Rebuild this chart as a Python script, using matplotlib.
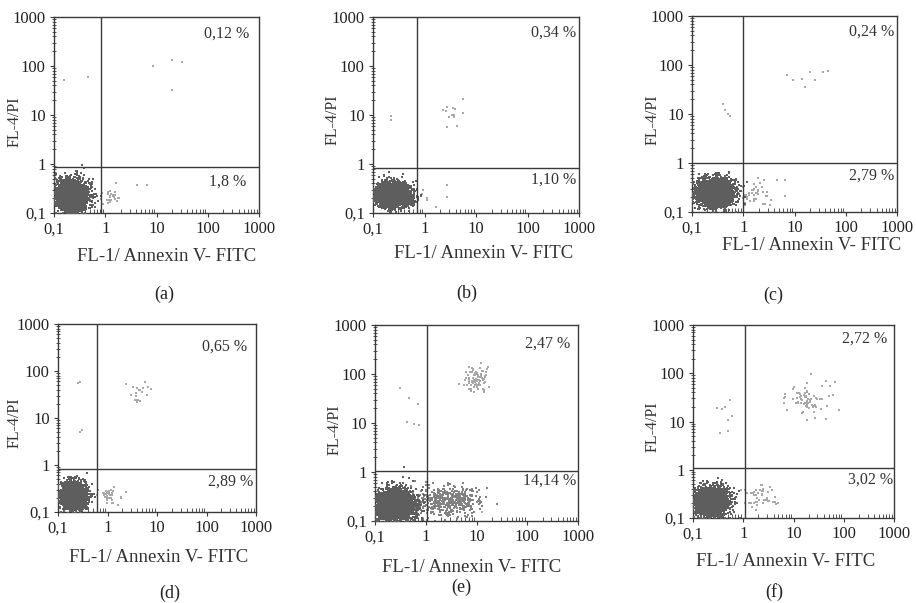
import numpy as np
import matplotlib
matplotlib.use("Agg")
import matplotlib.pyplot as plt
from matplotlib.ticker import LogLocator, NullFormatter

plt.rcParams["font.family"] = ["Liberation Serif", "DejaVu Serif"]

W, H = 916, 603

PANEL_TAGS = ["(a)", "(b)", "(c)", "(d)", "(e)", "(f)"]
TICK_VALUES = [0.1, 1, 10, 100, 1000]
TICK_LABELS = ["0,1", "1", "10", "100", "1000"]
X_TITLE = "FL-1/ Annexin V- FITC"
Y_TITLE = "FL-4/PI"

# quadrant gates
GATE_X = [0.83, 0.73, 1.0, 0.61, 1.05, 1.1]
GATE_Y = [0.88, 0.84, 1.0, 0.82, 1.05, 1.08]
PCT_UPPER = ["0,12 %", "0,34 %", "0,24 %", "0,65 %", "2,47 %", "2,72 %"]
PCT_LOWER = ["1,8 %", "1,10 %", "2,79 %", "2,89 %", "14,14 %", "3,02 %"]

# live population (lower-left): centre, spread in decades, events
LIVE_X = [0.22, 0.24, 0.28, 0.21, 0.24, 0.23]
LIVE_Y = [0.22, 0.24, 0.25, 0.22, 0.21, 0.22]
LIVE_SX = [0.16, 0.17, 0.18, 0.12, 0.20, 0.17]
LIVE_SY = [0.17, 0.12, 0.14, 0.14, 0.16, 0.15]
LIVE_N = [2300, 2300, 2800, 2600, 2800, 2300]

# smaller populations: (x, y, spread x, spread y, events)
MINOR_POPS = [
    [(1.3, 0.22, 0.10, 0.09, 25)],
    [(3.6, 10, 0.12, 0.15, 6)],
    [(1.6, 0.25, 0.15, 0.14, 40)],
    [(1.1, 0.22, 0.10, 0.10, 35), (4.5, 38, 0.12, 0.15, 12)],
    [(2.5, 0.25, 0.35, 0.15, 500), (10, 80, 0.12, 0.15, 90)],
    [(2.2, 0.28, 0.15, 0.15, 45), (20, 28, 0.25, 0.20, 75)],
]
DARK_MINOR = [False, False, False, False, True, False]

# single scattered events
SPARSE_X = [
    [0.16, 0.47, 8.7, 20, 31, 20, 4.1, 6.4, 1.6],
    [0.22, 0.22, 5.7, 3.6, 2.7, 4.2, 2.3, 5.7, 3.4, 2.7, 2.7, 1.1, 1.1, 1.7, 0.9, 0.95],
    [0.4, 0.45, 0.5, 0.55, 7, 9.2, 14, 16, 20, 25, 36, 46, 4.5, 6.6, 6.6, 3.3],
    [0.28, 0.28, 0.25, 0.3, 3.3, 5.7, 6.2, 6.6, 3.0, 4.5, 4, 2.4],
    [0.31, 0.46, 0.71, 0.42, 0.58, 0.74, 12.7],
    [0.3, 0.44, 0.55, 0.6, 0.34, 0.5, 0.5, 0.38],
]
SPARSE_Y = [
    [51, 59, 100, 132, 123, 32, 0.38, 0.38, 0.4],
    [9.5, 8, 21, 13.7, 5.8, 6, 12.6, 10.8, 10, 0.37, 0.21, 0.2, 0.18, 0.13, 0.25, 0.3],
    [16, 12, 10, 9, 62, 49, 52, 35, 72, 50, 72, 76, 0.46, 0.46, 0.21, 0.14],
    [59, 5.1, 55, 5.5, 46, 59, 31, 45, 31, 40, 24, 0.27],
    [51, 32, 25, 10.6, 9.5, 9, 0.15],
    [19, 20, 28, 13, 5.8, 6.3, 11, 18],
]

# layout in pixels: axes box (left, top, right, bottom)
AXES_BOX = [
    (54, 17, 259, 213),
    (373, 17, 579, 213),
    (692, 16, 897, 212),
    (58, 324, 256, 512),
    (375, 325, 578, 521),
    (693, 325, 894, 518),
]
XLABEL_POS = [(167, 256), (484, 253), (812, 245), (159, 557), (472, 567), (786, 562)]
YLABEL_POS = [(15, 122), (333, 120), (653, 120), (15, 423), (335, 430), (653, 427)]
TAG_POS = [(164, 294), (467, 293), (773, 295), (170, 593), (461, 587), (774, 592)]
UPPER_POS = [(0.953, 0.917), (0.985, 0.92), (0.985, 0.92), (0.957, 0.88), (0.963, 0.906), (0.964, 0.928)]
LOWER_POS = [(0.94, 0.16), (0.985, 0.168), (0.985, 0.186), (0.985, 0.163), (0.989, 0.208), (0.994, 0.198)]

LINE = "#3a3a3a"
DARK = "#5e5e5e"
MID = "#828282"
LIGHT = "#a8a8a8"

rng = np.random.default_rng(11)


def cloud(xc, yc, sx, sy, n):
    lx = rng.normal(np.log10(xc), sx, n)
    ly = rng.normal(np.log10(yc), sy, n)
    return 10 ** lx, 10 ** ly


def fx(x):
    return x / W


def fy(y):
    return 1 - y / H


fig = plt.figure(figsize=(W / 100, H / 100), dpi=100)

for i in range(6):
    l, t, r, b = AXES_BOX[i]
    ax = fig.add_axes([fx(l), fy(b), (r - l) / W, (b - t) / H])
    ax.set_xscale("log")
    ax.set_yscale("log")

    # light populations first, the dense live blob on top
    for (xc, yc, sx, sy, n) in MINOR_POPS[i]:
        xs, ys = cloud(xc, yc, sx, sy, n)
        col = MID if (DARK_MINOR[i] and n > 200) else LIGHT
        ax.scatter(xs, ys, s=2, marker="s", linewidths=0, color=col, zorder=2)
    ax.scatter(SPARSE_X[i], SPARSE_Y[i], s=2, marker="s", linewidths=0,
               color=LIGHT, zorder=2)
    xs, ys = cloud(LIVE_X[i], LIVE_Y[i], LIVE_SX[i], LIVE_SY[i], LIVE_N[i])
    ax.scatter(xs, ys, s=2, marker="s", linewidths=0, color=DARK, zorder=3)

    ax.axvline(GATE_X[i], color=LINE, lw=1, zorder=4)
    ax.axhline(GATE_Y[i], color=LINE, lw=1, zorder=4)

    ax.set_xlim(0.1, 1000)
    ax.set_ylim(0.1, 1000)
    ax.set_xticks(TICK_VALUES, TICK_LABELS)
    ax.set_yticks(TICK_VALUES, TICK_LABELS)
    ax.xaxis.set_minor_locator(LogLocator(base=10, subs=range(2, 10)))
    ax.yaxis.set_minor_locator(LogLocator(base=10, subs=range(2, 10)))
    ax.xaxis.set_minor_formatter(NullFormatter())
    ax.yaxis.set_minor_formatter(NullFormatter())
    ax.tick_params(which="major", length=3, width=0.8, color=LINE,
                   labelsize=12, pad=3, labelcolor="#222")
    ax.tick_params(axis="x", which="minor", direction="in", length=3,
                   width=0.6, color=LINE)
    ax.tick_params(axis="y", which="minor", direction="inout", length=3,
                   width=0.6, color=LINE)
    for sp in ax.spines.values():
        sp.set_color(LINE)
        sp.set_linewidth(1)

    ax.text(*UPPER_POS[i], PCT_UPPER[i], transform=ax.transAxes,
            ha="right", va="center", fontsize=11.5, color="#333")
    ax.text(*LOWER_POS[i], PCT_LOWER[i], transform=ax.transAxes,
            ha="right", va="center", fontsize=11.5, color="#333")

    fig.text(fx(XLABEL_POS[i][0]), fy(XLABEL_POS[i][1]), X_TITLE,
             ha="center", va="center", fontsize=13.5, color="#333")
    fig.text(fx(YLABEL_POS[i][0]), fy(YLABEL_POS[i][1]), Y_TITLE,
             ha="center", va="center", rotation=90, fontsize=11.5, color="#333")
    fig.text(fx(TAG_POS[i][0]), fy(TAG_POS[i][1]), PANEL_TAGS[i],
             ha="center", va="center", fontsize=13, color="#222")

fig.savefig("out.png", dpi=100)
